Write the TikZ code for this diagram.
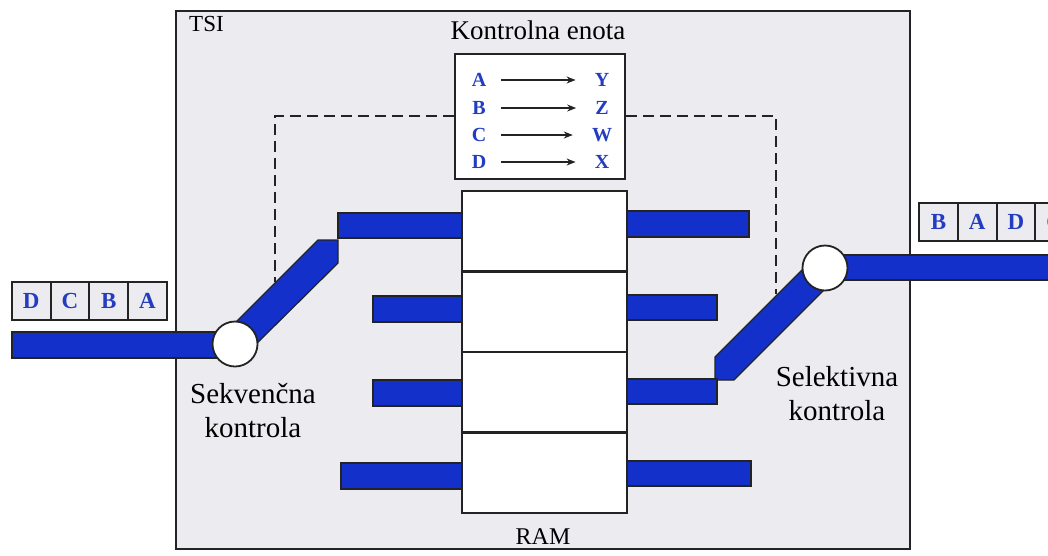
\documentclass[tikz,border=0pt]{standalone}
\usepackage{fontspec}
\setmainfont{Liberation Serif}
\usetikzlibrary{arrows.meta}
\definecolor{busblue}{RGB}{20,48,202}
\definecolor{letterblue}{RGB}{36,60,192}
\definecolor{panel}{RGB}{236,236,240}
\definecolor{ink}{RGB}{35,35,35}
\tikzset{
  panelframe/.style={draw=ink, line width=2pt, fill=panel},
  busbar/.style={fill=busblue, draw=ink, line width=1.3pt, line join=miter},
  switch/.style={circle, draw=ink, line width=1.8pt, fill=white, minimum size=45pt, inner sep=0pt},
  memcell/.style={draw=ink, line width=2.2pt, fill=white, minimum width=165pt, minimum height=80.5pt, inner sep=0pt},
  ctrlbox/.style={draw=ink, line width=2pt, fill=white, minimum width=170pt, minimum height=125pt, inner sep=0pt},
  tag/.style={draw=ink, line width=2pt, fill=panel, minimum width=38.7pt, minimum height=38pt, inner sep=0pt,
    font=\fontsize{23}{23}\selectfont\bfseries, text=letterblue},
  slot/.style={font=\fontsize{20}{20}\selectfont\bfseries, text=letterblue, minimum width=16pt, inner sep=2pt},
  maparrow/.style={draw=ink, line width=1.2pt, -{Stealth[length=9pt,width=7pt]}, shorten <=13pt, shorten >=17pt},
  ctrlline/.style={draw=ink, line width=2.6pt, dash pattern=on 11pt off 6pt},
  caption/.style={font=\fontsize{29}{34}\selectfont, align=center, inner sep=0pt},
  title/.style={font=\fontsize{27}{27}\selectfont, inner sep=0pt}
}
\begin{document}
\begin{tikzpicture}[x=1pt, y=-1pt]
\useasboundingbox (0,0) rectangle (1048,555);
\clip (0,0) rectangle (1048,555);

% TSI panel
\draw[panelframe] (176,11) rectangle (910,549);
\node[font=\fontsize{23}{23}\selectfont, anchor=west, inner sep=0pt] (tsi) at (189,24) {TSI};

% control unit
\node[title] (ctrltitle) at (538,30) {Kontrolna enota};
\node[ctrlbox] (ctrl) at (540,116) {};

% dashed control lines to the two switches
\coordinate (lturn) at (275,116);
\coordinate (lend) at (275,282);
\coordinate (rturn) at (776,116);
\coordinate (rend) at (776,294);
\draw[ctrlline] (ctrl.west) -- (lturn) -- (lend);
\draw[ctrlline] (ctrl.east) -- (rturn) -- (rend);

% input and output buses
\draw[busbar] (12,332) rectangle (236,358);
\draw[busbar] (820,255) rectangle (1060,280);

% slanted bus sections
\draw[busbar] (224.5,333.5) -- (318,240) -- (338,240) -- (338,263) -- (245.5,354.5) -- cycle;
\draw[busbar] (814.5,257.5) -- (715,357) -- (715,380) -- (734,380) -- (835.5,278.5) -- cycle;

% bars on the left of the memory
\draw[busbar] (338,213) rectangle (463,238);
\draw[busbar] (373,296) rectangle (463,322);
\draw[busbar] (373,380) rectangle (463,406);
\draw[busbar] (341,463) rectangle (463,489);

% bars on the right of the memory
\draw[busbar] (626,211) rectangle (749,237);
\draw[busbar] (626,295) rectangle (717,320);
\draw[busbar] (626,379) rectangle (717,404);
\draw[busbar] (626,461) rectangle (751,486);

% switches
\node[switch] (seq) at (235,344) {};
\node[switch] (sel) at (825,268) {};

% memory cells
\node[memcell] (m1) at (544.5,231.25) {};
\node[memcell] (m2) at (544.5,311.75) {};
\node[memcell] (m3) at (544.5,392.25) {};
\node[memcell] (m4) at (544.5,472.75) {};
\node[title, font=\fontsize{24}{24}\selectfont] (ram) at (543,537) {RAM};

% mapping table
\node[slot] (inA) at (479,80) {A};
\node[slot] (inB) at (479,108) {B};
\node[slot] (inC) at (479,135) {C};
\node[slot] (inD) at (479,162) {D};
\node[slot] (outY) at (602,80) {Y};
\node[slot] (outZ) at (602,108) {Z};
\node[slot] (outW) at (602,135) {W};
\node[slot] (outX) at (602,162) {X};
\draw[maparrow] (inA.east) -- (outY.west);
\draw[maparrow] (inB.east) -- (outZ.west);
\draw[maparrow] (inC.east) -- (outW.west);
\draw[maparrow] (inD.east) -- (outX.west);

% incoming frame
\node[tag] (qD) at (31.3,301) {D};
\node[tag] (qC) at (70,301) {C};
\node[tag] (qB) at (108.7,301) {B};
\node[tag] (qA) at (147.4,301) {A};

% outgoing frame
\node[tag] (pB) at (938.5,222) {B};
\node[tag] (pA) at (977.2,222) {A};
\node[tag] (pD) at (1015.9,222) {D};
\node[tag] (pC) at (1054.6,222) {C};

% switch captions
\node[caption] (seqlabel) at (253,411) {Sekvenčna\\kontrola};
\node[caption] (sellabel) at (837,394) {Selektivna\\kontrola};
\end{tikzpicture}
\end{document}
